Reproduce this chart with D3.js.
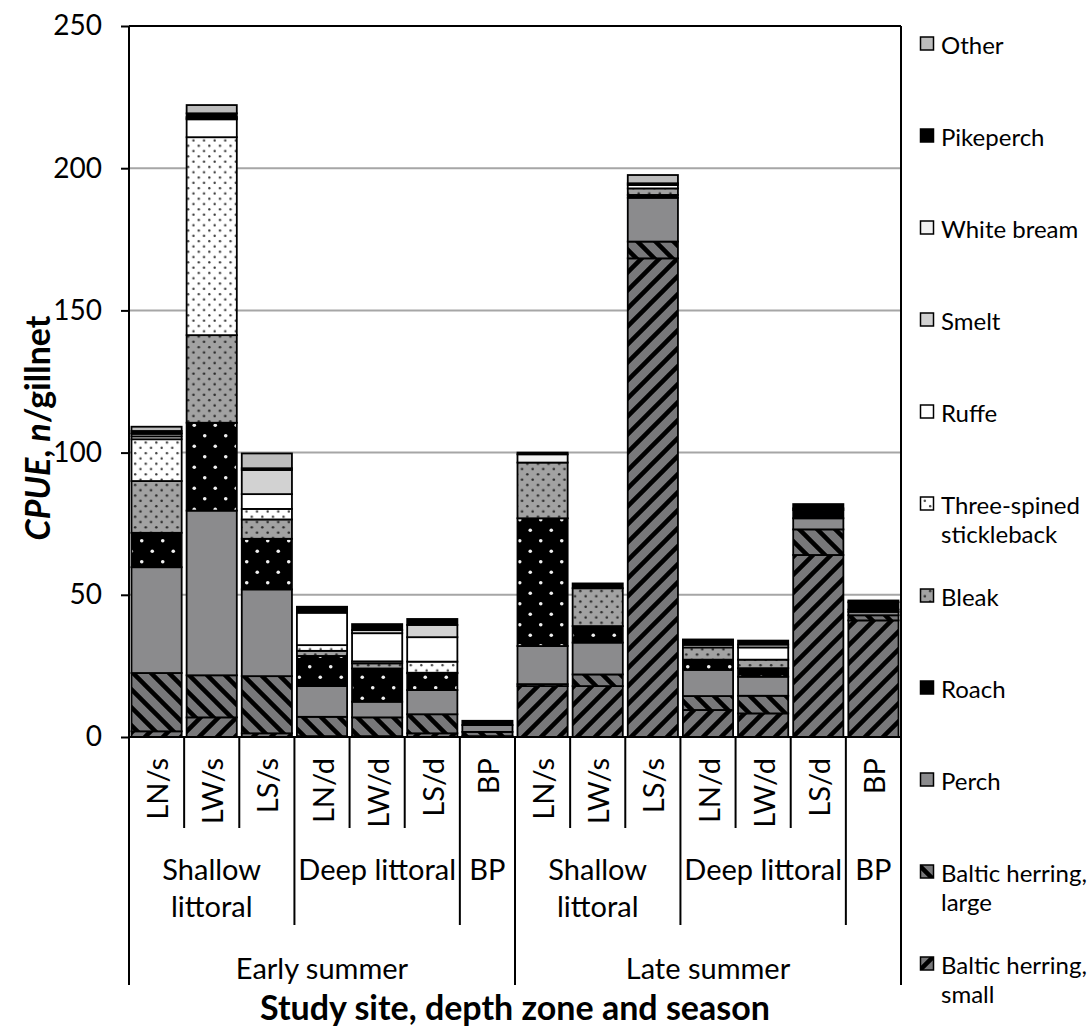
<!DOCTYPE html>
<html><head><meta charset="utf-8">
<script src="https://cdn.jsdelivr.net/npm/d3@7"></script>
<style>
html,body{margin:0;padding:0;background:#fff;}
svg{display:block;font-family:Lato, "Open Sans", sans-serif;}
</style></head>
<body>
<svg id="chart" width="1089" height="1031"></svg>
<script>
// ---- DATA ----
const categories = ["LN/s","LW/s","LS/s","LN/d","LW/d","LS/d","BP","LN/s","LW/s","LS/s","LN/d","LW/d","LS/d","BP"];
const zoneLabels = [["Shallow","littoral"],["Deep littoral"],["BP"],["Shallow","littoral"],["Deep littoral"],["BP"]];
const zoneSizes = [3,3,1,3,3,1];
const seasonLabels = ["Early summer","Late summer"];
const seasonSizes = [7,7];
const yTicks = [0,50,100,150,200,250];

const herringSmall = [2.0, 6.9, 1.3, 0.3, 0.3, 1.3, 0.3, 17.9, 17.9, 168.3, 9.5, 8.3, 64.0, 41.0];
const herringLarge = [20.5, 14.8, 20.1, 6.8, 6.6, 6.7, 1.5, 0.7, 4.1, 5.9, 4.9, 6.2, 9.0, 1.8];
const perch        = [37.2, 57.9, 30.5, 10.8, 5.5, 8.5, 2.4, 13.4, 11.2, 15.4, 9.2, 6.7, 3.9, 1.2];
const roach        = [12.1, 30.9, 17.8, 10.6, 11.7, 5.9, 0, 44.9, 5.8, 1.0, 3.6, 3.0, 2.9, 0.8];
const bleak        = [18.2, 30.8, 6.8, 1.8, 1.8, 0.2, 0, 19.6, 13.3, 2.3, 4.3, 3.0, 0, 0];
const stickleback  = [14.7, 69.6, 3.7, 2.0, 0.7, 3.9, 0, 0, 0, 0, 0, 0, 0, 0];
const ruffe        = [1.0, 6.3, 5.2, 11.4, 9.9, 8.6, 0, 0, 0, 1.2, 0, 4.3, 0, 0];
const smelt        = [0.9, 0.3, 8.5, 0, 1.1, 4.3, 0, 0, 0, 0, 0, 0, 0, 0];
const whiteBream   = [0.3, 0.5, 0, 0, 0, 0, 0, 2.9, 0, 0.6, 0.9, 1.0, 0.6, 0];
const pikeperch    = [0.7, 1.3, 0.6, 2.1, 2.1, 2.1, 1.5, 0.6, 1.7, 0, 1.9, 1.4, 1.5, 2.6];
const other        = [1.5, 2.9, 5.2, 0, 0, 0, 0, 0, 0, 2.9, 0, 0, 0, 0.6];

const seriesNames = ["Baltic herring, small","Baltic herring, large","Perch","Roach","Bleak","Three-spined stickleback","Ruffe","Smelt","White bream","Pikeperch","Other"];
const seriesValues = [herringSmall, herringLarge, perch, roach, bleak, stickleback, ruffe, smelt, whiteBream, pikeperch, other];
const legendLines = [["Baltic herring,","small"],["Baltic herring,","large"],["Perch"],["Roach"],["Bleak"],["Three-spined","stickleback"],["Ruffe"],["Smelt"],["White bream"],["Pikeperch"],["Other"]];

// ---- LAYOUT ----
const svg = d3.select("#chart");
const L = 129, R = 901, T = 26, B = 737;
const fills = ["url(#pHS)","url(#pHL)","#8b8b8d","url(#pRoach)","url(#pBleak)","url(#pTSS)","#ffffff","#d2d2d2","#f2f2f2","#000000","#bdbdbd"];

// patterns
const defs = svg.append("defs");
function stripes(id, dir){
  const s = 18;
  const p = defs.append("pattern").attr("id",id).attr("patternUnits","userSpaceOnUse").attr("width",s).attr("height",s);
  p.append("rect").attr("width",s).attr("height",s).attr("fill","#78787a");
  const d = dir>0
    ? `M${-s/2},${s/2} L${s/2},${-s/2} M0,${s} L${s},0 M${s/2},${s*1.5} L${s*1.5},${s/2}`
    : `M${-s/2},${s/2} L${s/2},${s*1.5} M0,0 L${s},${s} M${s/2},${-s/2} L${s*1.5},${s/2}`;
  p.append("path").attr("d",d).attr("stroke","#000").attr("stroke-width",4.5);
}
stripes("pHS",1); stripes("pHL",-1);
function dots(id, size, bg, fg, r){
  const p = defs.append("pattern").attr("id",id).attr("patternUnits","userSpaceOnUse").attr("width",size).attr("height",size);
  p.append("rect").attr("width",size).attr("height",size).attr("fill",bg);
  p.append("circle").attr("cx",size/4).attr("cy",size/4).attr("r",r).attr("fill",fg);
  p.append("circle").attr("cx",size*3/4).attr("cy",size*3/4).attr("r",r).attr("fill",fg);
}
dots("pRoach",21,"#000","#f0f0f0",1.8);
dots("pBleak",10.6,"#a2a2a2","#2a2a2a",1.3);
dots("pTSS",10.6,"#ffffff","#3a3a3a",1.2);

const x = d3.scaleBand().domain(d3.range(categories.length)).range([L,R]).paddingInner(0.09).paddingOuter(0.045);
const y = d3.scaleLinear().domain([0,250]).range([B,T]);
const step = x.step();
const edge = i => L + i*step;

// gridlines
svg.append("g").selectAll("line").data(yTicks.filter(t=>t>0 && t<250)).join("line")
  .attr("x1",L).attr("x2",R).attr("y1",d=>y(d)).attr("y2",d=>y(d))
  .attr("stroke","#a6a6a6").attr("stroke-width",2);

// stacked bars
const table = categories.map((c,i)=>{const o={i}; seriesNames.forEach((n,k)=>o[n]=seriesValues[k][i]); return o;});
const stack = d3.stack().keys(seriesNames)(table);
const gBars = svg.append("g");
stack.forEach((layer,k)=>{
  gBars.append("g").selectAll("rect").data(layer.filter(d=>d[1]-d[0]>0)).join("rect")
    .attr("x",d=>x(d.data.i)).attr("width",x.bandwidth())
    .attr("y",d=>y(d[1])).attr("height",d=>y(d[0])-y(d[1]))
    .attr("fill",fills[k]).attr("stroke","#000").attr("stroke-width",1.8);
});

// frame
svg.append("line").attr("x1",L).attr("x2",R).attr("y1",T).attr("y2",T).attr("stroke","#000").attr("stroke-width",2);
svg.append("line").attr("x1",L).attr("x2",R).attr("y1",B).attr("y2",B).attr("stroke","#000").attr("stroke-width",2);

// y axis
const yAxis = svg.append("g").attr("transform",`translate(${L},0)`)
  .call(d3.axisLeft(y).tickValues(yTicks).tickSize(8).tickPadding(19));
yAxis.select(".domain").remove();
yAxis.selectAll(".tick line").attr("stroke","#000").attr("stroke-width",2);
yAxis.selectAll(".tick text").attr("font-family","Lato").attr("font-size",28).attr("fill","#000");

// category dividers
const catB = 828, zoneB = 925, seasonB = 985;
const zoneEdges = d3.cumsum(zoneSizes);
const seasonEdges = d3.cumsum(seasonSizes);
for(let i=0;i<=categories.length;i++){
  let bottom = catB;
  if(zoneEdges.includes(i)) bottom = zoneB;
  if(i===0 || seasonEdges.includes(i)) bottom = seasonB;
  const top = (i===0 || i===categories.length) ? T : B;
  svg.append("line").attr("x1",edge(i)).attr("x2",edge(i)).attr("y1",top).attr("y2",bottom)
    .attr("stroke","#000").attr("stroke-width",2);
}

// category labels
svg.append("g").selectAll("text").data(categories).join("text")
  .attr("transform",(d,i)=>`translate(${x(i)+x.bandwidth()/2},758) rotate(-90)`)
  .attr("text-anchor","end").attr("dominant-baseline","central")
  .attr("font-size",29).attr("fill","#000").text(d=>d);

// zone labels
let zs = 0;
zoneLabels.forEach((lab,k)=>{
  const cx = (edge(zs)+edge(zs+zoneSizes[k]))/2;
  lab.forEach((ln,j)=>{
    svg.append("text").attr("x",cx).attr("y",868+j*37).attr("text-anchor","middle").attr("dominant-baseline","central")
      .attr("font-size",29).attr("fill","#000").text(ln);
  });
  zs += zoneSizes[k];
});
// season labels
let ss = 0;
seasonLabels.forEach((lab,k)=>{
  const cx = (edge(ss)+edge(ss+seasonSizes[k]))/2;
  svg.append("text").attr("x",cx).attr("y",967).attr("text-anchor","middle").attr("dominant-baseline","central")
    .attr("font-size",29).attr("fill","#000").text(lab);
  ss += seasonSizes[k];
});

// axis titles
svg.append("text").attr("x",(L+R)/2).attr("y",1006).attr("text-anchor","middle").attr("dominant-baseline","central")
  .attr("font-size",34).attr("font-weight","bold").attr("fill","#000").text("Study site, depth zone and season");
const yt = svg.append("text").attr("transform","translate(36,428) rotate(-90)").attr("text-anchor","middle")
  .attr("dominant-baseline","central").attr("font-size",34).attr("font-weight","bold").attr("fill","#000");
yt.append("tspan").attr("font-style","italic").text("CPUE");
yt.append("tspan").text(", ");
yt.append("tspan").attr("font-style","italic").text("n");
yt.append("tspan").text("/gillnet");

// legend (reverse order, Other on top)
const leg = svg.append("g");
const legOrder = d3.range(seriesNames.length).reverse();
legOrder.forEach((k,j)=>{
  const cy = 44 + j*92;
  leg.append("rect").attr("x",920.5).attr("y",cy-7).attr("width",13).attr("height",13)
    .attr("fill",fills[k]).attr("stroke","#000").attr("stroke-width",1.5);
  legendLines[k].forEach((ln,m)=>{
    leg.append("text").attr("x",941).attr("y",cy+m*29).attr("dominant-baseline","central")
      .attr("font-size",24).attr("fill","#000").text(ln);
  });
});
</script>
</body></html>
